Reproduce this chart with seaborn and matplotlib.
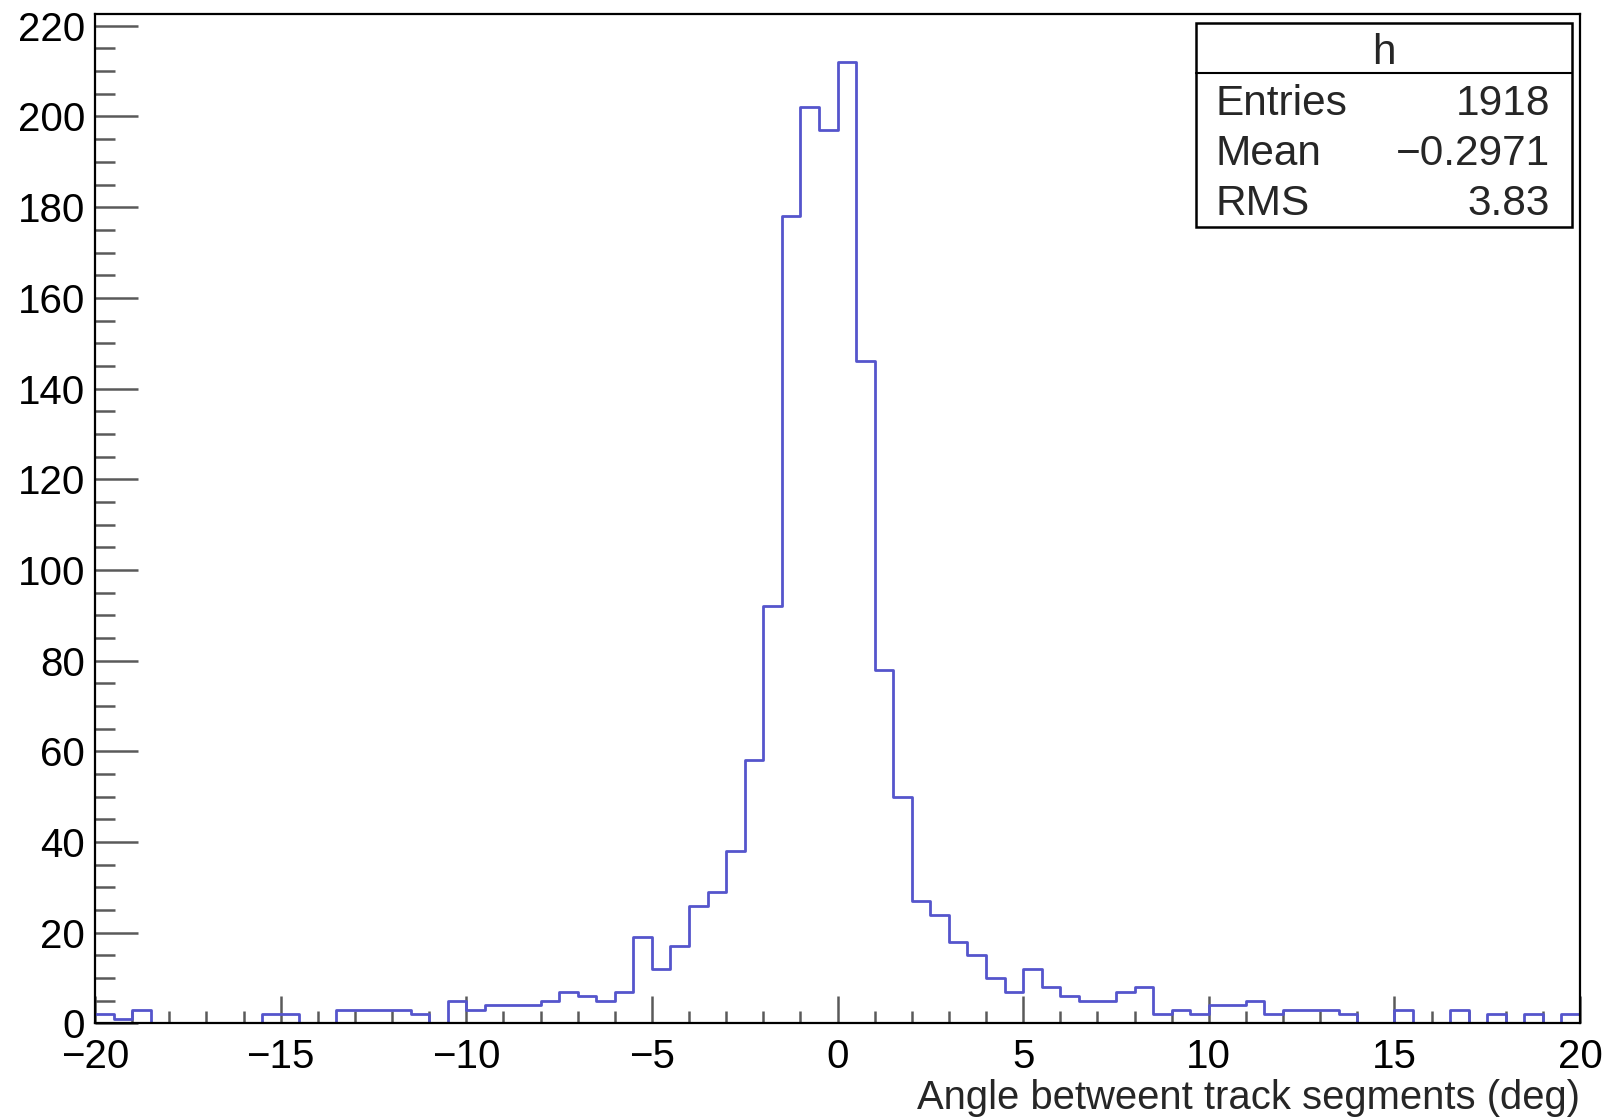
import numpy as np
import pandas as pd
import matplotlib
matplotlib.use("Agg")
import matplotlib.pyplot as plt
from matplotlib.ticker import MultipleLocator
from matplotlib.patches import Rectangle
from matplotlib.lines import Line2D
import seaborn as sns

# ---------------- data ----------------
x_min, x_max, bin_width = -20.0, 20.0, 0.5
counts = [
    2, 1, 3, 0, 0, 0, 0, 0, 0, 2,      # -20.0 .. -15.5
    2, 0, 0, 3, 3, 3, 3, 2, 0, 5,      # -15.0 .. -10.5
    3, 4, 4, 4, 5, 7, 6, 5, 7, 19,     # -10.0 .. -5.5
    12, 17, 26, 29, 38, 58, 92, 178, 202, 197,   # -5.0 .. -0.5
    212, 146, 78, 50, 27, 24, 18, 15, 10, 7,     # 0.0 .. 4.5
    12, 8, 6, 5, 5, 7, 8, 2, 3, 2,     # 5.0 .. 9.5
    4, 4, 5, 2, 3, 3, 3, 2, 0, 0,      # 10.0 .. 14.5
    3, 0, 0, 3, 0, 2, 0, 2, 0, 2,      # 15.0 .. 19.5
]
hist_name = "h"
stat_names = ["Entries", "Mean", "RMS"]
stat_values = ["1918", "\u22120.2971", "3.83"]
x_label = "Angle betweent track segments (deg)"
x_ticks = [-20, -15, -10, -5, 0, 5, 10, 15, 20]
y_ticks = [0, 20, 40, 60, 80, 100, 120, 140, 160, 180, 200, 220]

centers = x_min + bin_width * (np.arange(len(counts)) + 0.5)
df = pd.DataFrame({"angle": centers, "count": counts})

# ---------------- figure ----------------
sns.set_theme(style="white")
plt.rcParams["font.family"] = ["Liberation Sans", "DejaVu Sans"]

W, H = 1610, 1117
fig = plt.figure(figsize=(W / 100, H / 100), dpi=100)
fig.patch.set_facecolor("white")

ax_l, ax_r, ax_t, ax_b = 95, 1580, 14, 1023.4
ax = fig.add_axes([ax_l / W, 1 - ax_b / H, (ax_r - ax_l) / W, (ax_b - ax_t) / H])
ax.set_facecolor("white")

sns.histplot(data=df, x="angle", weights="count", binwidth=bin_width,
             binrange=(x_min, x_max), element="step", fill=False,
             color="#5555cc", linewidth=2.0, ax=ax)

ax.set_xlim(x_min, x_max)
ax.set_ylim(0, 1.05 * max(counts))
ax.set_xticks(x_ticks)
ax.set_yticks(y_ticks)
ax.xaxis.set_minor_locator(MultipleLocator(1))
ax.yaxis.set_minor_locator(MultipleLocator(5))
ax.set_ylabel("")
ax.set_xlabel(x_label, fontsize=28.8, ha="right")
ax.xaxis.set_label_coords(1.0, -0.055)

ax.tick_params(axis="both", which="both", direction="in", colors="#5a5a5a",
               width=1.8, labelcolor="black", labelsize=29,
               bottom=True, left=True, top=False, right=False)
ax.tick_params(axis="x", which="major", length=19.5, pad=10.5)
ax.tick_params(axis="x", which="minor", length=8.6)
ax.tick_params(axis="y", which="major", length=31, pad=7)
ax.tick_params(axis="y", which="minor", length=14.4)

for s in ax.spines.values():
    s.set_visible(True)
    s.set_color("black")
    s.set_linewidth(1.6)

# ---------------- stats box ----------------
bx0, bx1, by0, by1 = 1196, 1571.7, 23.3, 226.7
sep_y = 73.3
fig.add_artist(Rectangle((bx0 / W, 1 - by1 / H), (bx1 - bx0) / W, (by1 - by0) / H,
                         transform=fig.transFigure, facecolor="white",
                         edgecolor="black", linewidth=1.8, zorder=5))
fig.add_artist(Line2D([bx0 / W, bx1 / W], [1 - sep_y / H, 1 - sep_y / H],
                      transform=fig.transFigure, color="black", linewidth=1.5, zorder=6))
fig.text((bx0 + bx1) / 2 / W, 1 - 53 / H, hist_name, ha="center", va="center",
         fontsize=30.5, zorder=7)
row_baselines = [115, 165, 215]
for name, val, yb in zip(stat_names, stat_values, row_baselines):
    fig.text(1215 / W, 1 - yb / H, name, ha="left", va="baseline", fontsize=30.5, zorder=7)
    fig.text(1550 / W, 1 - yb / H, val, ha="right", va="baseline", fontsize=30.5, zorder=7)

fig.savefig("out.png", dpi=100)
